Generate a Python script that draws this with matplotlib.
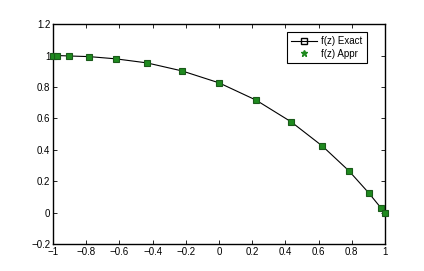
import numpy as np
import matplotlib
matplotlib.use('Agg')
import matplotlib.pyplot as plt
from matplotlib.lines import Line2D

plt.rcParams['font.family'] = ['Liberation Sans', 'DejaVu Sans']

# values
z = [-1.0, -0.975, -0.901, -0.782, -0.623, -0.434, -0.223, 0.0,
     0.223, 0.434, 0.623, 0.782, 0.901, 0.975, 1.0]
f_exact = [1.0, 1.0, 0.997, 0.993, 0.979, 0.953, 0.902, 0.826,
           0.716, 0.578, 0.423, 0.266, 0.126, 0.030, 0.0]
f_appr = f_exact

xticks = [-1, -0.8, -0.6, -0.4, -0.2, 0, 0.2, 0.4, 0.6, 0.8, 1]
yticks = [-0.2, 0, 0.2, 0.4, 0.6, 0.8, 1, 1.2]

def fmt(v):
    s = ('%g' % v)
    return s.replace('-', '\u2212')

fig = plt.figure(figsize=(4.24, 2.71), dpi=100)
ax = fig.add_axes([0.125, 0.1, 0.783, 0.811])

ax.plot(z, f_exact, color='black', linewidth=0.8, zorder=2, clip_on=False)
ax.plot(z, f_appr, linestyle='none', marker='s', markersize=4,
        markerfacecolor='#1f8a1f', markeredgecolor='#1a5a1a',
        markeredgewidth=0.8, zorder=3, clip_on=False)

ax.set_xlim(-1, 1)
ax.set_ylim(-0.2, 1.2)
ax.set_xticks(xticks)
ax.set_yticks(yticks)
ax.set_xticklabels([fmt(v) for v in xticks])
ax.set_yticklabels([fmt(v) for v in yticks])
ax.tick_params(direction='in', length=3, width=0.6, labelsize=7,
               top=True, right=True, pad=2)
for s in ax.spines.values():
    s.set_linewidth(1.0)

handles = [
    Line2D([], [], color='black', linewidth=0.8, marker='s', markersize=4,
           markerfacecolor='none', markeredgecolor='black'),
    Line2D([], [], linestyle='none', marker='*', markersize=5,
           color='#1f8a1f'),
]
leg = ax.legend(handles, ['f(z) Exact', 'f(z) Appr'], loc='upper right',
                bbox_to_anchor=(0.946, 0.964), borderaxespad=0,
                fontsize=7, fancybox=False, framealpha=1, edgecolor='black',
                handlelength=2.6, borderpad=0.45, labelspacing=0.25,
                handletextpad=0.5)
leg.get_frame().set_linewidth(0.8)

fig.savefig('out.png', dpi=100)
